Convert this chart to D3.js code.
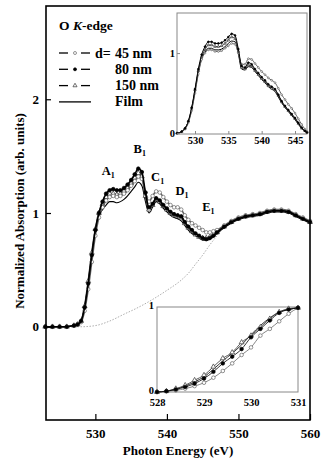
<!DOCTYPE html>
<html>
<head>
<meta charset="utf-8">
<script src="https://cdn.jsdelivr.net/npm/d3@7"></script>
<style>
body { margin: 0; background: #fff; }
</style>
</head>
<body>
<div id="chart"></div>
<script>
// main spectra (eV, normalized absorption)
var energy = [523,524,525,526,527,
  527.5,528,528.5,529,529.5,530,530.5,531,531.5,532,532.5,533,533.5,534,534.5,535,535.5,536,536.5,537,
  537.5,538,538.5,539,539.5,540,540.5,541,541.5,542,542.5,543,543.5,544,544.5,545,545.5,546,546.5,547,
  548,549,550,551,552,553,554,555,556,557,558,559,560];
var nm45 = [0,0,0,0,0.01,
  0.02,0.04,0.14,0.33,0.57,0.80,0.96,1.05,1.11,1.14,1.15,1.14,1.15,1.17,1.20,1.24,1.28,1.32,1.30,1.18,
  1.10,1.15,1.19,1.18,1.14,1.10,1.07,1.05,1.05,1.03,0.98,0.94,0.91,0.89,0.87,0.85,0.83,0.83,0.84,0.85,
  0.89,0.93,0.96,0.98,0.99,1.00,1.02,1.03,1.03,1.02,0.99,0.96,0.93];
var nm80 = [0,0,0,0,0.01,
  0.02,0.05,0.17,0.38,0.63,0.85,1.00,1.10,1.17,1.20,1.21,1.20,1.20,1.22,1.25,1.29,1.34,1.39,1.36,1.18,
  1.05,1.08,1.13,1.11,1.07,1.04,1.01,0.99,0.98,0.97,0.92,0.88,0.85,0.82,0.80,0.78,0.77,0.78,0.80,0.83,
  0.88,0.92,0.95,0.97,0.98,0.99,1.01,1.02,1.02,1.01,0.98,0.95,0.92];
var nm150 = [0,0,0,0,0.01,
  0.02,0.05,0.18,0.40,0.65,0.86,1.00,1.08,1.14,1.17,1.17,1.16,1.17,1.19,1.22,1.26,1.31,1.35,1.32,1.15,
  1.03,1.07,1.12,1.10,1.06,1.03,1.00,0.98,0.97,0.96,0.91,0.87,0.84,0.81,0.79,0.78,0.78,0.79,0.81,0.83,
  0.88,0.92,0.95,0.97,0.98,0.99,1.01,1.02,1.02,1.01,0.98,0.95,0.92];
var film = [0,0,0,0,0.01,
  0.02,0.05,0.17,0.38,0.62,0.83,0.97,1.03,1.07,1.10,1.10,1.09,1.10,1.12,1.15,1.19,1.23,1.27,1.24,1.10,
  1.00,1.05,1.10,1.08,1.04,1.01,0.98,0.96,0.95,0.93,0.89,0.85,0.82,0.80,0.78,0.76,0.76,0.77,0.79,0.82,
  0.87,0.91,0.94,0.96,0.97,0.98,1.00,1.01,1.01,1.00,0.97,0.94,0.91];

// step background
var bgEnergy = [527.5,528,530,532,534,536,538,540,542,543,544,545,546,547,547.5];
var bgValue = [0,0,0.01,0.05,0.11,0.17,0.24,0.32,0.41,0.47,0.55,0.63,0.72,0.80,0.84];

// inset 1 : background subtracted
var inEnergy = [527.3,528,528.5,529,529.5,530,530.5,531,531.5,532,532.5,533,533.5,534,534.5,535,535.5,536,536.5,537,
  537.5,538,538.5,539,539.5,540,540.5,541,541.5,542,542.5,543,543.5,544,544.5,545,545.5,546,546.5,546.8];
var in45 = [0,0.02,0.05,0.13,0.28,0.50,0.74,0.92,1.00,1.04,1.04,1.02,1.02,1.03,1.06,1.09,1.12,1.11,1.00,0.86,
  0.86,0.93,0.92,0.87,0.82,0.77,0.73,0.69,0.66,0.63,0.56,0.48,0.42,0.36,0.31,0.25,0.18,0.11,0.05,0.02];
var in80 = [0,0.02,0.06,0.15,0.32,0.55,0.80,0.98,1.08,1.14,1.14,1.12,1.12,1.13,1.16,1.20,1.24,1.22,1.05,0.84,
  0.82,0.88,0.86,0.80,0.75,0.70,0.66,0.61,0.58,0.55,0.48,0.40,0.34,0.29,0.24,0.19,0.13,0.07,0.03,0.01];
var in150 = [0,0.02,0.06,0.15,0.31,0.54,0.78,0.95,1.04,1.10,1.10,1.08,1.08,1.09,1.12,1.16,1.20,1.18,1.02,0.82,
  0.80,0.85,0.84,0.78,0.73,0.68,0.64,0.59,0.56,0.54,0.47,0.39,0.33,0.28,0.23,0.18,0.12,0.06,0.03,0.01];
var inFilm = [0,0.02,0.06,0.14,0.30,0.52,0.76,0.93,1.01,1.06,1.06,1.04,1.04,1.05,1.08,1.12,1.15,1.14,0.99,0.80,
  0.79,0.83,0.82,0.77,0.72,0.67,0.63,0.58,0.55,0.52,0.45,0.38,0.32,0.27,0.22,0.17,0.11,0.06,0.02,0.01];

// inset 2 : edge onset
var edgeEnergy = [528,528.2,528.4,528.6,528.8,529,529.2,529.4,529.6,529.8,530,530.2,530.4,530.6,530.8,531];
var edge45 = [0,0.01,0.02,0.04,0.07,0.11,0.17,0.25,0.34,0.44,0.53,0.67,0.75,0.84,0.93,1.0];
var edge80 = [0,0.01,0.03,0.06,0.10,0.16,0.24,0.34,0.42,0.51,0.65,0.75,0.85,0.94,0.98,1.0];
var edge150 = [0,0.01,0.04,0.08,0.14,0.20,0.30,0.40,0.47,0.59,0.67,0.77,0.87,0.95,0.99,1.0];
var edgeFilm = [0,0.01,0.035,0.07,0.12,0.18,0.27,0.37,0.46,0.56,0.68,0.79,0.88,0.95,0.98,1.0];

var mainTicksX = [530, 540, 550, 560];
var mainTicksY = [0, 1, 2];
var legendLabels = ["45 nm", "80 nm", "150 nm", "Film"];
var peakLabels = ["A", "B", "C", "D", "E"];
var peakEnergy = [531.8, 536.2, 538.7, 542.1, 545.8];
var peakValue = [1.33, 1.53, 1.28, 1.16, 1.02];

var serif = "'Liberation Serif', 'Times New Roman', Times, 'DejaVu Serif', serif";
var fmt = d3.format("d");

var svg = d3.select("#chart").append("svg")
    .attr("width", 333)
    .attr("height", 462);

var series = [
    {v: film, iv: inFilm, ev: edgeFilm, marker: null, color: "#000"},
    {v: nm150, iv: in150, ev: edge150, marker: "tri", color: "#333"},
    {v: nm45, iv: in45, ev: edge45, marker: "open", color: "#666"},
    {v: nm80, iv: in80, ev: edge80, marker: "dot", color: "#000"}
];

function drawSeries(g, xs, ys, en, vals, s, r, lw) {
    var pts = en.map(function(e, i) { return [xs(e), ys(vals[i])]; });
    var line = d3.line().curve(d3.curveMonotoneX);
    if (lw > 0) {
        g.append("path")
            .attr("d", line(pts))
            .attr("fill", "none")
            .attr("stroke", s.color)
            .attr("stroke-width", lw);
    }
    if (!s.marker || r == 0) return;
    pts.forEach(function(p) {
        if (s.marker == "tri") {
            g.append("path")
                .attr("d", d3.symbol().type(d3.symbolTriangle).size(r * r * 3.2)())
                .attr("transform", "translate(" + p[0] + "," + p[1] + ")")
                .attr("fill", "#fff")
                .attr("stroke", s.color)
                .attr("stroke-width", 0.7);
        } else {
            g.append("circle")
                .attr("cx", p[0]).attr("cy", p[1]).attr("r", r)
                .attr("fill", s.marker == "dot" ? "#000" : "#fff")
                .attr("stroke", s.color)
                .attr("stroke-width", 0.7);
        }
    });
}

// ---- main plot
var x = d3.scaleLinear().domain([523.1, 560]).range([46, 310]);
var y = d3.scaleLinear().domain([-0.82, 2.82]).range([420, 6]);

var main = svg.append("g");
main.append("path")
    .attr("d", d3.line().curve(d3.curveMonotoneX)(bgEnergy.map(function(e, i) { return [x(e), y(bgValue[i])]; })))
    .attr("fill", "none")
    .attr("stroke", "#999")
    .attr("stroke-width", 0.8)
    .attr("stroke-dasharray", "1.5,1.5");

series.forEach(function(s) {
    drawSeries(main, x, y, energy, s.v, s, s.marker ? 1.8 : 0, s.marker ? 1.6 : 1.1);
});

var xAxis = main.append("g")
    .attr("transform", "translate(0,420)")
    .call(d3.axisBottom(x).tickValues(mainTicksX).tickFormat(fmt).tickSize(-6).tickPadding(9));
var yAxis = main.append("g")
    .attr("transform", "translate(46,0)")
    .call(d3.axisLeft(y).tickValues(mainTicksY).tickFormat(fmt).tickSize(-5).tickPadding(7));
[xAxis, yAxis].forEach(function(a) {
    a.select(".domain").remove();
    a.selectAll("line").attr("stroke", "#000").attr("stroke-width", 1.2);
    a.selectAll("text").style("font-size", "13px");
});

main.append("rect")
    .attr("x", 46).attr("y", 6).attr("width", 264).attr("height", 414)
    .attr("fill", "none").attr("stroke", "#000").attr("stroke-width", 1.6);

main.append("text")
    .attr("x", 178).attr("y", 455)
    .attr("text-anchor", "middle")
    .style("font-size", "13px")
    .text("Photon Energy (eV)");
main.append("text")
    .attr("transform", "translate(24,211) rotate(-90)")
    .attr("text-anchor", "middle")
    .style("font-size", "13px")
    .text("Normalized Absorption (arb. units)");

// peak labels
peakLabels.forEach(function(p, i) {
    var t = main.append("text")
        .attr("x", x(peakEnergy[i]))
        .attr("y", y(peakValue[i]))
        .attr("text-anchor", "middle")
        .style("font-size", "12.5px");
    t.append("tspan").text(p);
    t.append("tspan").attr("dy", 3).style("font-size", "8px").text("1");
});

// legend
var leg = main.append("g");
var kt = leg.append("text").attr("x", 59).attr("y", 30).style("font-size", "13.5px");
kt.append("tspan").text("O ");
kt.append("tspan").style("font-style", "italic").text("K");
kt.append("tspan").text("-edge");
var legOrder = [series[2], series[3], series[1], series[0]];
legendLabels.forEach(function(lab, i) {
    var s = legOrder[i];
    var cy = 53 + i * 16.3;
    if (s.marker) {
        leg.append("line").attr("x1", 59).attr("x2", 68).attr("y1", cy).attr("y2", cy).attr("stroke", "#000").attr("stroke-width", 1.3);
        leg.append("line").attr("x1", 81).attr("x2", 90).attr("y1", cy).attr("y2", cy).attr("stroke", "#000").attr("stroke-width", 1.3);
        drawSeries(leg, function(e) { return e; }, function(v) { return v; }, [75], [cy], s, 1.5, 0);
    } else {
        leg.append("line").attr("x1", 59).attr("x2", 91).attr("y1", cy).attr("y2", cy).attr("stroke", "#000").attr("stroke-width", 1.3);
    }
    leg.append("text").attr("x", 115).attr("y", cy + 4.5).style("font-size", "14px").text(lab);
});
leg.append("text").attr("x", 95).attr("y", 57.5).style("font-size", "14px").text("d=");

// ---- inset 1
var x1 = d3.scaleLinear().domain([527.3, 546.8]).range([177, 307]);
var y1 = d3.scaleLinear().domain([-0.01, 1.5]).range([134, 13]);
var ins1 = svg.append("g");
ins1.append("rect")
    .attr("x", 177).attr("y", 13).attr("width", 130).attr("height", 121)
    .attr("fill", "#fff").attr("stroke", "#888").attr("stroke-width", 1);
series.forEach(function(s) {
    drawSeries(ins1, x1, y1, inEnergy, s.iv, s, s.marker ? 0.9 : 0, 1);
});
var ix1 = ins1.append("g").attr("transform", "translate(0,134)")
    .call(d3.axisBottom(x1).tickValues([530, 535, 540, 545]).tickFormat(fmt).tickSize(-3).tickPadding(3));
var iy1 = ins1.append("g").attr("transform", "translate(177,0)")
    .call(d3.axisLeft(y1).tickValues([0, 1]).tickFormat(fmt).tickSize(-3).tickPadding(2));

// ---- inset 2
var x2 = d3.scaleLinear().domain([528, 531]).range([157, 298]);
var y2 = d3.scaleLinear().domain([0, 1.01]).range([392, 307]);
var ins2 = svg.append("g");
ins2.append("rect")
    .attr("x", 157).attr("y", 307).attr("width", 141).attr("height", 85)
    .attr("fill", "#fff").attr("stroke", "#888").attr("stroke-width", 1);
series.forEach(function(s) {
    drawSeries(ins2, x2, y2, edgeEnergy, s.ev, s, s.marker ? 1.8 : 0, 0.8);
});
var ix2 = ins2.append("g").attr("transform", "translate(0,392)")
    .call(d3.axisBottom(x2).tickValues([528, 529, 530, 531]).tickFormat(fmt).tickSize(0).tickPadding(7));
var iy2 = ins2.append("g").attr("transform", "translate(157,0)")
    .call(d3.axisLeft(y2).tickValues([0, 1]).tickFormat(fmt).tickSize(0).tickPadding(3));
iy2.selectAll("text").attr("dy", "0.1em");

[ix1, iy1, ix2, iy2].forEach(function(a) {
    a.select(".domain").remove();
    a.selectAll("line").attr("stroke", "#888");
    a.selectAll("text").style("font-size", "10.5px");
});

svg.selectAll("g").attr("font-family", null);
svg.selectAll("text")
    .style("font-family", serif)
    .style("font-weight", "bold")
    .attr("fill", "#000");
</script>
</body>
</html>
